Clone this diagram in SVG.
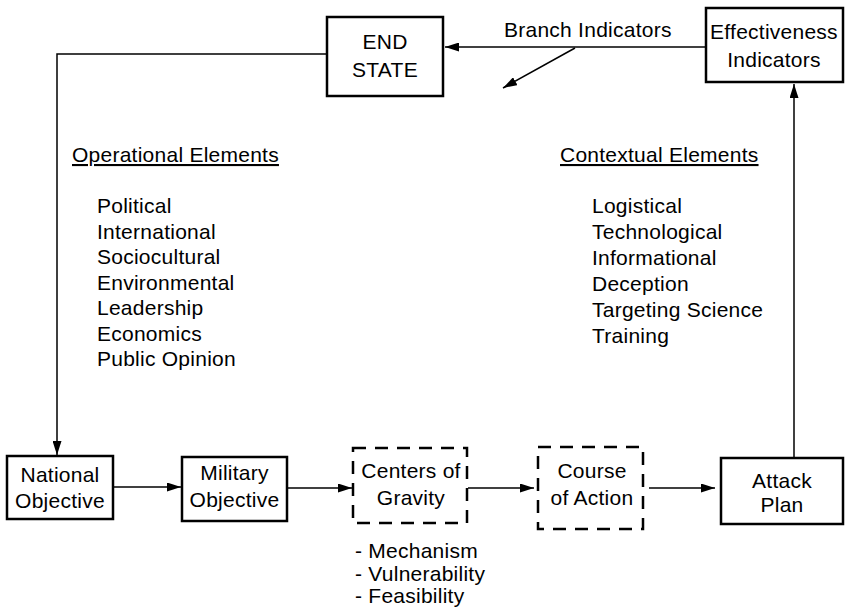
<svg xmlns="http://www.w3.org/2000/svg" width="845" height="607" viewBox="0 0 845 607">
<style>
text{font-family:"Liberation Sans",Arial,sans-serif;font-size:21px;letter-spacing:0.25px;fill:#000}
.c{text-anchor:middle}
.box{fill:#fff;stroke:#000;stroke-width:2.5}
.dash{fill:#fff;stroke:#000;stroke-width:2.5;stroke-dasharray:13 9}
.ln{fill:none;stroke:#000;stroke-width:1.5}
.u{text-decoration:underline}
</style>
<defs>
<marker id="ah" viewBox="0 0 14 9" refX="14" refY="4.5" markerWidth="14" markerHeight="9" markerUnits="userSpaceOnUse" orient="auto">
<path d="M0,0 L14,4.5 L0,9 Z" fill="#000"/>
</marker>
</defs>
<g id="connectors">
<line class="ln" x1="706" y1="47" x2="445" y2="47" marker-end="url(#ah)"/>
<line class="ln" x1="575" y1="48" x2="503" y2="88" marker-end="url(#ah)"/>
<polyline class="ln" points="327,54 57,54 57,455" marker-end="url(#ah)"/>
<line class="ln" x1="113" y1="487" x2="181" y2="487" marker-end="url(#ah)"/>
<line class="ln" x1="287" y1="488" x2="352" y2="488" marker-end="url(#ah)"/>
<line class="ln" x1="468" y1="488" x2="534" y2="488" marker-end="url(#ah)"/>
<line class="ln" x1="649" y1="488" x2="715" y2="488" marker-end="url(#ah)"/>
<line class="ln" x1="794" y1="458" x2="794" y2="84" marker-end="url(#ah)"/>
</g>
<g id="end-state">
<rect class="box" x="327" y="17" width="116" height="79"/>
<text class="c" x="385" y="49">END</text>
<text class="c" x="385" y="77">STATE</text>
</g>
<g id="branch-indicators-label">
<text x="504" y="37">Branch Indicators</text>
</g>
<g id="effectiveness-indicators">
<rect class="box" x="706" y="8" width="137" height="74"/>
<text class="c" x="774" y="39">Effectiveness</text>
<text class="c" x="774" y="67">Indicators</text>
</g>
<g id="operational-elements">
<text class="u" x="72" y="162">Operational Elements</text>
<text x="97" y="213">Political</text>
<text x="97" y="238.5">International</text>
<text x="97" y="264">Sociocultural</text>
<text x="97" y="289.5">Environmental</text>
<text x="97" y="315">Leadership</text>
<text x="97" y="340.5">Economics</text>
<text x="97" y="366">Public Opinion</text>
</g>
<g id="contextual-elements">
<text class="u" x="560" y="162">Contextual Elements</text>
<text x="592" y="213">Logistical</text>
<text x="592" y="239">Technological</text>
<text x="592" y="265">Informational</text>
<text x="592" y="291">Deception</text>
<text x="592" y="317">Targeting Science</text>
<text x="592" y="343">Training</text>
</g>
<g id="national-objective">
<rect class="box" x="7" y="456" width="106" height="63"/>
<text class="c" x="60" y="482">National</text>
<text class="c" x="60" y="508">Objective</text>
</g>
<g id="military-objective">
<rect class="box" x="182" y="457" width="105" height="64"/>
<text class="c" x="234.5" y="480">Military</text>
<text class="c" x="234.5" y="507">Objective</text>
</g>
<g id="centers-of-gravity">
<rect class="dash" x="353" y="448" width="114" height="75"/>
<text class="c" x="411" y="478">Centers of</text>
<text class="c" x="411" y="505">Gravity</text>
<text x="355" y="558">- Mechanism</text>
<text x="355" y="581">- Vulnerability</text>
<text x="355" y="603">- Feasibility</text>
</g>
<g id="course-of-action">
<rect class="dash" x="538" y="447" width="105" height="82"/>
<text class="c" x="592" y="478">Course</text>
<text class="c" x="592" y="505">of Action</text>
</g>
<g id="attack-plan">
<rect class="box" x="721" y="458" width="122" height="66"/>
<text class="c" x="782" y="488">Attack</text>
<text class="c" x="782" y="512">Plan</text>
</g>
</svg>
